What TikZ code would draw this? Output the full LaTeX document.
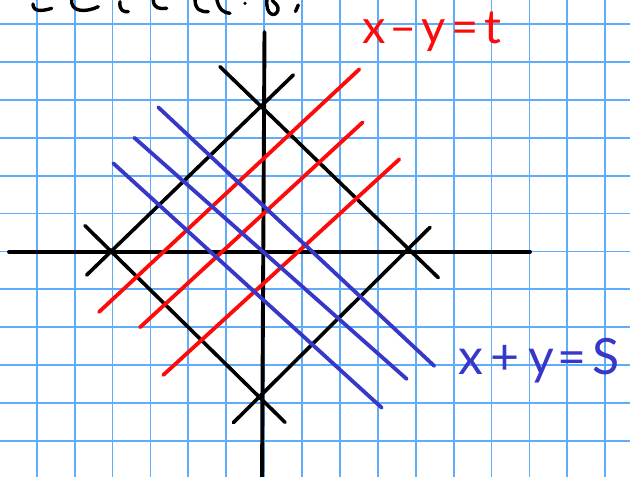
\documentclass[tikz,border=0pt]{standalone}
\usepackage{fontspec}
\setmainfont{Lato}
\definecolor{gridblue}{RGB}{95,172,250}
\definecolor{pred}{RGB}{255,10,10}
\definecolor{pblue}{RGB}{55,55,200}
\tikzset{
  gridline/.style={gridblue, line width=1.8pt},
  blackline/.style={black, line width=3.6pt, line cap=round},
  redline/.style={pred, line width=3.8pt, line cap=round},
  blueline/.style={pblue, line width=3.8pt, line cap=round},
  inkstroke/.style={black, line width=3.4pt, line cap=round, line join=round},
  lbl/.style={inner sep=0pt, anchor=base west, font=\fontsize{47}{50}\selectfont}
}
\begin{document}
\begin{tikzpicture}[x=1pt,y=-1pt]
\useasboundingbox (0,0) rectangle (630,477);
\clip (0,0) rectangle (630,477);
\fill[white] (0,0) rectangle (630,477);
% grid
\foreach \i in {0,...,16} \draw[gridline] ({-1.2+37.9*\i},0) -- ({-1.2+37.9*\i},477);
\foreach \j in {0,...,12} \draw[gridline] (0,{-13.9+37.9*\j}) -- (630,{-13.9+37.9*\j});
% partial handwriting at the top edge
\draw[inkstroke] (33,4) .. controls (33,11) and (40,12) .. (51.7,8.3);
\draw[inkstroke] (71.7,-1) .. controls (70,12) and (85,13) .. (98.3,6.7);
\draw[inkstroke] (120,1.7) .. controls (119,11) and (124,12) .. (128.3,11.7);
\draw[inkstroke] (153.3,-1) .. controls (153,9) and (160,9) .. (166.7,8.3);
\draw[inkstroke] (195,-1) .. controls (195,10) and (201,12) .. (208.3,11.7);
\draw[inkstroke] (216.7,-1) .. controls (219,10) and (224,13) .. (230,13.3);
\fill (245,3.3) circle (1.8);
\draw[inkstroke] (267,-1) .. controls (265,16) and (276,18) .. (278,10) .. controls (279,5) and (274,3) .. (272,0);
\draw[inkstroke] (298.3,5) -- (295.5,11.5);
% axes
\coordinate (xl) at (9,251.7);
\coordinate (xr) at (530,251.7);
\coordinate (yt) at (264.5,32);
\coordinate (yb) at (262,480);
\draw[blackline, line width=3.9pt] (xl) -- (xr);
\draw[blackline, line width=3.9pt] (yt) -- (yb);
% diamond |x|+|y| = const, sides extended past the vertices
\coordinate (tl1) at (293.3,75);   \coordinate (tl2) at (86.7,275);
\coordinate (tr1) at (220,66.7);   \coordinate (tr2) at (438.3,277.7);
\coordinate (bl1) at (85,225.7);   \coordinate (bl2) at (285,422.3);
\coordinate (br1) at (233.3,422.7);\coordinate (br2) at (430,227.3);
\draw[blackline] (tl1) -- (tl2);
\draw[blackline] (tr1) -- (tr2);
\draw[blackline] (bl1) -- (bl2);
\draw[blackline] (br1) -- (br2);
% red lines x - y = t
\coordinate (r1a) at (99,312);     \coordinate (r1b) at (359.3,69.3);
\coordinate (r2a) at (140,327.3);  \coordinate (r2b) at (362.7,122.3);
\coordinate (r3a) at (163.3,375);  \coordinate (r3b) at (399.3,159.3);
\draw[redline] (r1a) -- (r1b);
\draw[redline] (r2a) -- (r2b);
\draw[redline] (r3a) -- (r3b);
% blue lines x + y = s
\coordinate (b1a) at (158.3,107.3); \coordinate (b1b) at (434.3,366);
\coordinate (b2a) at (134.3,137.7); \coordinate (b2b) at (406.7,379);
\coordinate (b3a) at (113.3,163.3); \coordinate (b3b) at (381.7,407.7);
\draw[blueline] (b1a) -- (b1b);
\draw[blueline] (b2a) -- (b2b);
\draw[blueline] (b3a) -- (b3b);
% labels
\node[lbl, text=pred] (labt) at (362,43) {x\kern4pt–\kern5pt y\kern5pt=\kern6pt t};
\node[lbl, text=pblue, font=\fontsize{50}{54}\selectfont] (labs) at (458,374) {x\kern7pt+\kern9pt y\kern4pt=\kern6pt S};
\end{tikzpicture}
\end{document}
